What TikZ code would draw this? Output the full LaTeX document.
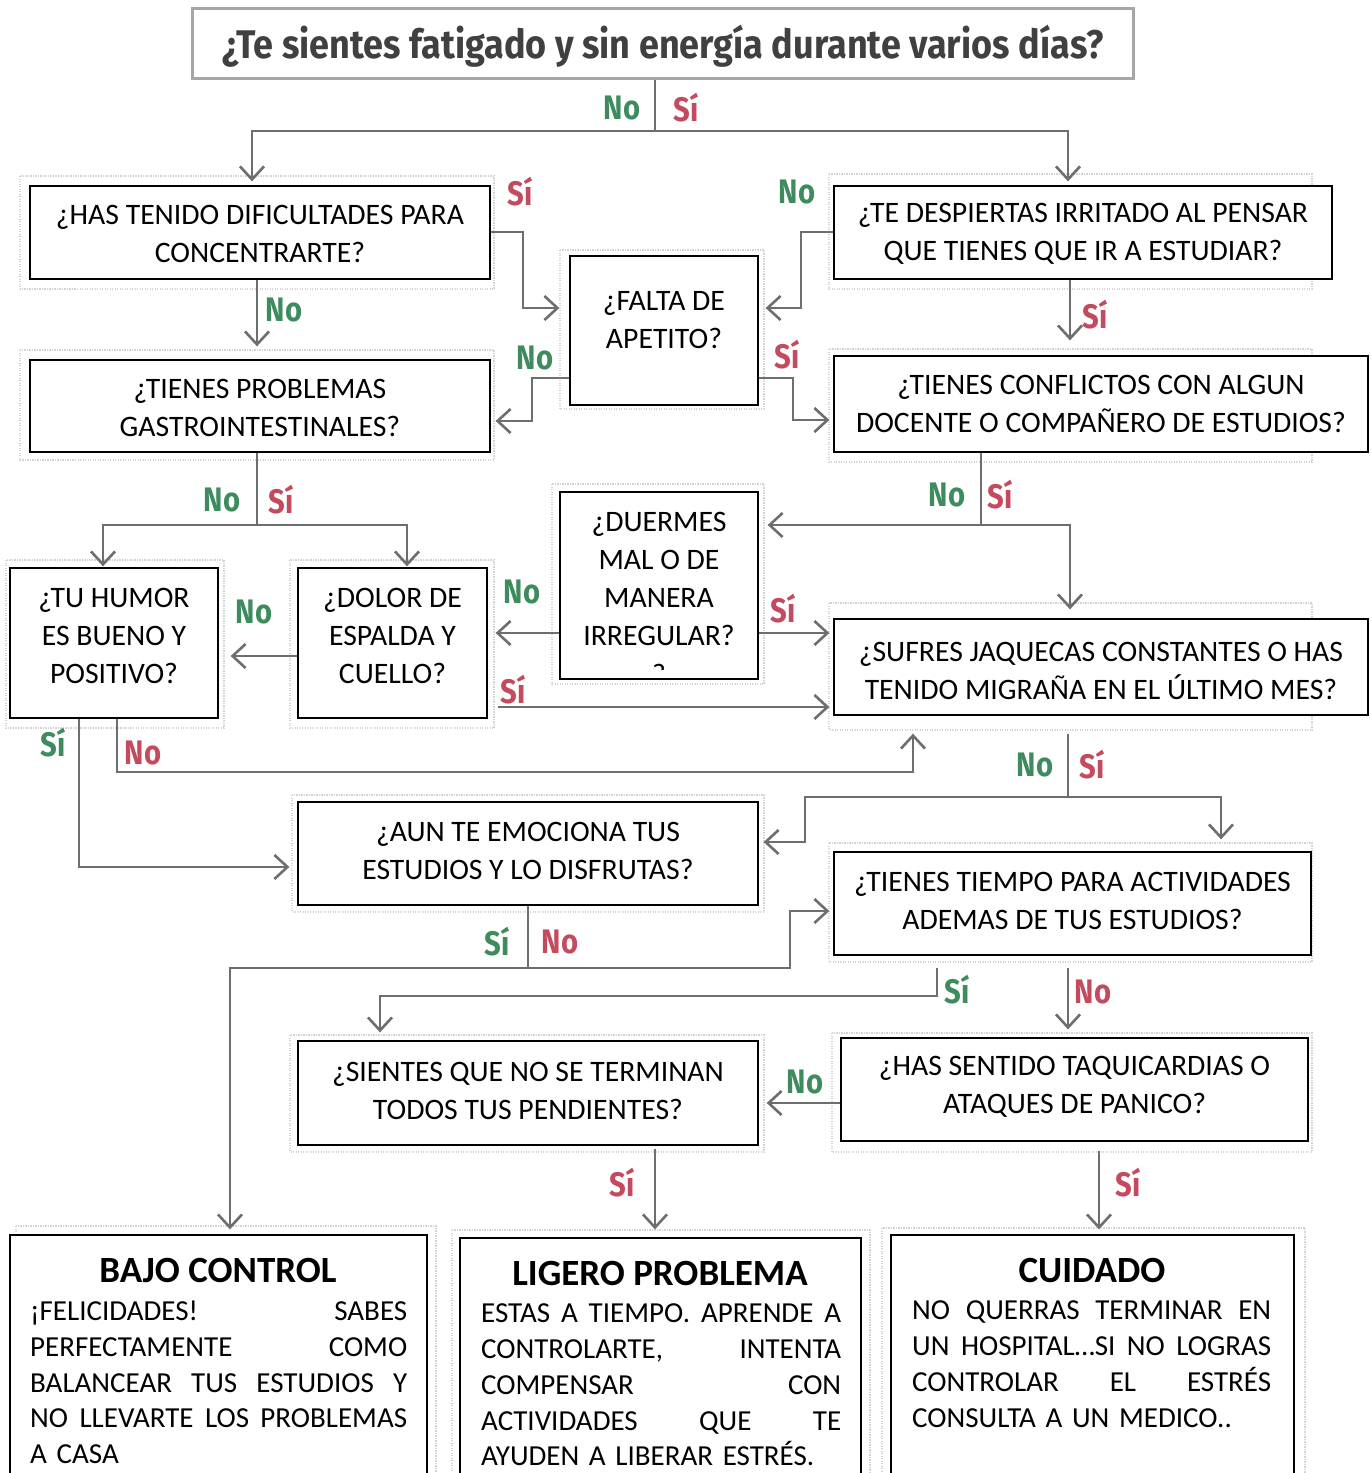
\documentclass[tikz,border=0pt]{standalone}
\usepackage{fontspec}
\setmainfont{Carlito}
\newfontfamily\headfont[FakeStretch=0.9]{Fira Sans}
\newfontfamily\labfont[FakeStretch=0.86]{Fira Sans}
\usetikzlibrary{arrows.meta}

\definecolor{yesred}{RGB}{196,74,94}
\definecolor{nogreen}{RGB}{62,140,94}
\definecolor{linegray}{RGB}{110,110,110}
\definecolor{ghostgray}{RGB}{212,212,212}
\definecolor{titlegray}{RGB}{64,64,64}

\tikzset{
  qbox/.style={draw=black, line width=1.3pt, fill=white, inner sep=0pt},
  qtext/.style={font=\fontsize{29.7}{38}\selectfont, align=center, inner sep=0pt},
  restitle/.style={font=\bfseries\fontsize{37}{37}\selectfont, inner sep=0pt},
  resbody/.style={font=\fontsize{29}{35.8}\selectfont, align=left, inner sep=0pt, anchor=north west},
  ghost/.style={draw=ghostgray, line width=2.5pt, dash pattern=on 1.2pt off 1.3pt},
  conn/.style={draw=linegray, line width=2.6pt},
  arr/.style={conn, -{Straight Barb[length=13pt,width=24pt]}},
  lab/.style={font=\labfont\bfseries\fontsize{34}{34}\selectfont, inner sep=0pt},
  lg/.style={lab, text=nogreen},
  lr/.style={lab, text=yesred},
}
% one justified line of a result text: words separated by \hfill
\newcommand\jline[2]{\makebox[#1]{#2}\\}

\begin{document}
\begin{tikzpicture}[x=1pt,y=-1pt]
\useasboundingbox (0,0) rectangle (1372,1473);
\clip (0,0) rectangle (1372,1473);
\fill[white] (0,0) rectangle (1372,1473);

% faint dotted frames left from the original layout
\draw[ghost] (20,176) rectangle (494,289);
\draw[ghost] (20,350) rectangle (494,460);
\draw[ghost] (560,250) rectangle (764,409);
\draw[ghost] (829,174) rectangle (1312,289);
\draw[ghost] (829,349) rectangle (1312,462);
\draw[ghost] (552,484) rectangle (764,684);
\draw[ghost] (829,603) rectangle (1312,730);
\draw[ghost] (6,560) rectangle (224,728);
\draw[ghost] (290,560) rectangle (494,728);
\draw[ghost] (292,795) rectangle (764,912);
\draw[ghost] (829,843) rectangle (1312,962);
\draw[ghost] (290,1035) rectangle (764,1152);
\draw[ghost] (832,1033) rectangle (1312,1152);
\draw[ghost] (16,1226) rectangle (436,1490);
\draw[ghost] (452,1230) rectangle (870,1490);
\draw[ghost] (882,1228) rectangle (1305,1490);

% title
\node[draw=black!35, line width=3pt, fill=white, minimum width=941pt, minimum height=70pt,
      inner sep=0pt] (title) at (662.5,43) {};
\node[text=titlegray, inner sep=0pt, font=\headfont\bfseries\fontsize{40}{40}\selectfont]
  (titletext) at (663,46) {¿Te sientes fatigado y sin energía durante varios días?};

% question boxes
\node[qbox, minimum width=460pt, minimum height=93pt]  (A) at (260,232.5) {};
\node[qbox, minimum width=460pt, minimum height=92pt]  (B) at (260,406) {};
\node[qbox, minimum width=188pt, minimum height=149pt] (F) at (664,330.5) {};
\node[qbox, minimum width=498pt, minimum height=93pt]  (D) at (1083,232.5) {};
\node[qbox, minimum width=534pt, minimum height=96pt]  (E) at (1101,404) {};
\node[qbox, minimum width=198pt, minimum height=187pt] (M) at (659,585.5) {};
\node[qbox, minimum width=534pt, minimum height=96pt]  (J) at (1101,667) {};
\node[qbox, minimum width=208pt, minimum height=150pt] (H) at (114,643) {};
\node[qbox, minimum width=189pt, minimum height=150pt] (P) at (392.5,643) {};
\node[qbox, minimum width=460pt, minimum height=103pt] (U) at (528,853.5) {};
\node[qbox, minimum width=477pt, minimum height=103pt] (T) at (1072.5,903.5) {};
\node[qbox, minimum width=460pt, minimum height=104pt] (S) at (528,1093) {};
\node[qbox, minimum width=467pt, minimum height=103pt] (K) at (1074.5,1089.5) {};
\node[qbox, minimum width=417pt, minimum height=255pt] (R1) at (218.5,1362.5) {};
\node[qbox, minimum width=401pt, minimum height=252pt] (R2) at (660.5,1364) {};
\node[qbox, minimum width=403pt, minimum height=255pt] (R3) at (1092.5,1362.5) {};

% question texts
\node[qtext] (tA) at (260,234) {¿HAS TENIDO DIFICULTADES PARA\\CONCENTRARTE?};
\node[qtext] (tB) at (260,408) {¿TIENES PROBLEMAS\\GASTROINTESTINALES?};
\node[qtext] (tF) at (664,320) {¿FALTA DE\\APETITO?};
\node[qtext] (tD) at (1083,234) {¿TE DESPIERTAS IRRITADO AL PENSAR\\QUE TIENES QUE IR A ESTUDIAR?};
\node[qtext] (tE) at (1101,404) {¿TIENES CONFLICTOS CON ALGUN\\DOCENTE O COMPAÑERO DE ESTUDIOS?};
\node[qtext] (tM) at (659,578.5) {¿DUERMES\\MAL O DE\\MANERA\\IRREGULAR?};
\begin{scope}
  \clip (560,600) rectangle (758,669);
  \node[qtext] (tMq) at (659,674) {?};
\end{scope}
\node[qtext] (tJ) at (1101,671) {¿SUFRES JAQUECAS CONSTANTES O HAS\\TENIDO MIGRAÑA EN EL ÚLTIMO MES?};
\node[qtext] (tH) at (114,636) {¿TU HUMOR\\ES BUENO Y\\POSITIVO?};
\node[qtext] (tP) at (392.5,636) {¿DOLOR DE\\ESPALDA Y\\CUELLO?};
\node[qtext] (tU) at (528,850.5) {¿AUN TE EMOCIONA TUS\\ESTUDIOS Y LO DISFRUTAS?};
\node[qtext] (tT) at (1072.5,900.5) {¿TIENES TIEMPO PARA ACTIVIDADES\\ADEMAS DE TUS ESTUDIOS?};
\node[qtext] (tS) at (528,1090.5) {¿SIENTES QUE NO SE TERMINAN\\TODOS TUS PENDIENTES?};
\node[qtext] (tK) at (1074.5,1087) {¿HAS SENTIDO TAQUICARDIAS O\\ATAQUES DE PANICO?};

% result boxes
\node[restitle] (hR1) at (218,1270) {BAJO CONTROL};
\node[restitle] (hR2) at (660,1273) {LIGERO PROBLEMA};
\node[restitle] (hR3) at (1092,1270) {CUIDADO};
\node[resbody, text width=377pt] (bR1) at (30,1300.6) {%
  \jline{377pt}{¡FELICIDADES!\hfill SABES}
  \jline{377pt}{PERFECTAMENTE\hfill COMO}
  \jline{377pt}{BALANCEAR\hfill TUS\hfill ESTUDIOS\hfill Y}
  \jline{377pt}{NO\hfill LLEVARTE\hfill LOS\hfill PROBLEMAS}
  A CASA};
\node[resbody, text width=360pt] (bR2) at (481,1303.6) {%
  \jline{360pt}{ESTAS\hfill A\hfill TIEMPO.\hfill APRENDE\hfill A}
  \jline{360pt}{CONTROLARTE,\hfill INTENTA}
  \jline{360pt}{COMPENSAR\hfill CON}
  \jline{360pt}{ACTIVIDADES\hfill QUE\hfill TE}
  AYUDEN A LIBERAR ESTRÉS.};
\node[resbody, text width=359pt] (bR3) at (912,1300.6) {%
  \jline{359pt}{NO\hfill QUERRAS\hfill TERMINAR\hfill EN}
  \jline{359pt}{UN\hfill HOSPITAL…SI\hfill NO\hfill LOGRAS}
  \jline{359pt}{CONTROLAR\hfill EL\hfill ESTRÉS}
  CONSULTA A UN MEDICO..};

% split points
\coordinate (s0) at (655,131);
\coordinate (sE) at (981,525);
\coordinate (sB) at (257,525);
\coordinate (sJ) at (1068,797);
\coordinate (sU) at (528,968);

% connectors
\draw[conn] (title.south -| s0) -- (s0);
\draw[arr, shorten >=4pt] (s0) -| (A.north -| 252,0);
\draw[arr, shorten >=4pt] (s0) -| (D.north -| 1068,0);

\draw[arr, shorten >=10pt] (A.east |- 0,232) -- (523,232) |- (F.west |- 0,308);
\draw[arr, shorten >=13pt] (A.south -| 257,0) -- (B.north -| 257,0);
\draw[arr, shorten >=7pt] (D.west |- 0,232) -- (801,232) |- (F.east |- 0,308);
\draw[arr, shorten >=15pt] (D.south -| 1070,0) -- (E.north -| 1070,0);
\draw[arr, shorten >=5pt] (F.west |- 0,378) -- (532,378) |- (B.east |- 0,421);
\draw[arr, shorten >=4pt] (F.east |- 0,378) -- (793,378) |- (E.west |- 0,420);

\draw[conn] (E.south -| sE) -- (sE);
\draw[arr, shorten >=9pt] (sE) -- (M.east |- sE);
\draw[arr, shorten >=9pt] (sE) -| (J.north -| 1070,0);

\draw[conn] (B.south -| sB) -- (sB);
\draw[arr, shorten >=1pt] (sB) -| (H.north -| 103,0);
\draw[arr, shorten >=1pt] (sB) -| (P.north -| 407,0);

\draw[arr, shorten >=8pt] (M.west |- 0,633) -- (P.east |- 0,633);
\draw[arr, shorten >=4pt] (M.east |- 0,633) -- (J.west |- 0,633);
\draw[arr, shorten <=10pt, shorten >=4pt] (P.east |- 0,707) -- (J.west |- 0,707);
\draw[arr, shorten >=12pt] (P.west |- 0,656) -- (H.east |- 0,656);

\draw[arr, shorten >=8pt] (H.south -| 79,0) |- (U.west |- 0,867);
\draw[arr, shorten >=18pt] (H.south -| 117,0) |- (913,772) -- (J.south -| 913,0);

\draw[conn, shorten <=18pt] (J.south -| sJ) -- (sJ);
\draw[arr, shorten >=5pt] (sJ) -| (805,842) -- (U.east |- 0,842);
\draw[arr, shorten >=12pt] (sJ) -| (T.north -| 1221,0);

\draw[conn] (U.south -| sU) -- (sU);
\draw[arr, shorten >=5pt] (sU) -| (R1.north -| 230,0);
\draw[arr, shorten >=4pt] (sU) -| (790,911) -- (T.west |- 0,911);

\draw[arr, shorten <=12pt, shorten >=8pt] (T.south -| 937,0) |- (380,996) -- (S.north -| 380,0);
\draw[arr, shorten <=12pt, shorten >=8pt] (T.south -| 1068,0) -- (K.north -| 1068,0);
\draw[arr, shorten >=8pt] (K.west |- 0,1103) -- (S.east |- 0,1103);
\draw[arr, shorten <=3pt, shorten >=8pt] (S.south -| 655,0) -- (R2.north -| 655,0);
\draw[arr, shorten <=9pt, shorten >=5pt] (K.south -| 1099,0) -- (R3.north -| 1099,0);

% answer labels
\node[lg] (l1) at (622,108) {No};
\node[lr] (l2) at (686,108) {Sí};
\node[lr] (l3) at (520,192) {Sí};
\node[lg] (l4) at (284,310) {No};
\node[lg] (l5) at (797,192) {No};
\node[lr] (l6) at (1095,315) {Sí};
\node[lg] (l7) at (535,358) {No};
\node[lr] (l8) at (787,355) {Sí};
\node[lg] (l9) at (947,495) {No};
\node[lr] (l10) at (1000,495) {Sí};
\node[lg] (l11) at (222,500) {No};
\node[lr] (l12) at (281,500) {Sí};
\node[lg] (l13) at (522,592) {No};
\node[lr] (l14) at (783,609) {Sí};
\node[lr] (l15) at (513,690) {Sí};
\node[lg] (l16) at (254,612) {No};
\node[lg] (l17) at (53,743) {Sí};
\node[lr] (l18) at (143,753) {No};
\node[lg] (l19) at (1035,765) {No};
\node[lr] (l20) at (1092,765) {Sí};
\node[lg] (l21) at (497,942) {Sí};
\node[lr] (l22) at (560,942) {No};
\node[lg] (l23) at (957,990) {Sí};
\node[lr] (l24) at (1093,992) {No};
\node[lg] (l25) at (805,1082) {No};
\node[lr] (l26) at (622,1183) {Sí};
\node[lr] (l27) at (1128,1183) {Sí};
\end{tikzpicture}
\end{document}
